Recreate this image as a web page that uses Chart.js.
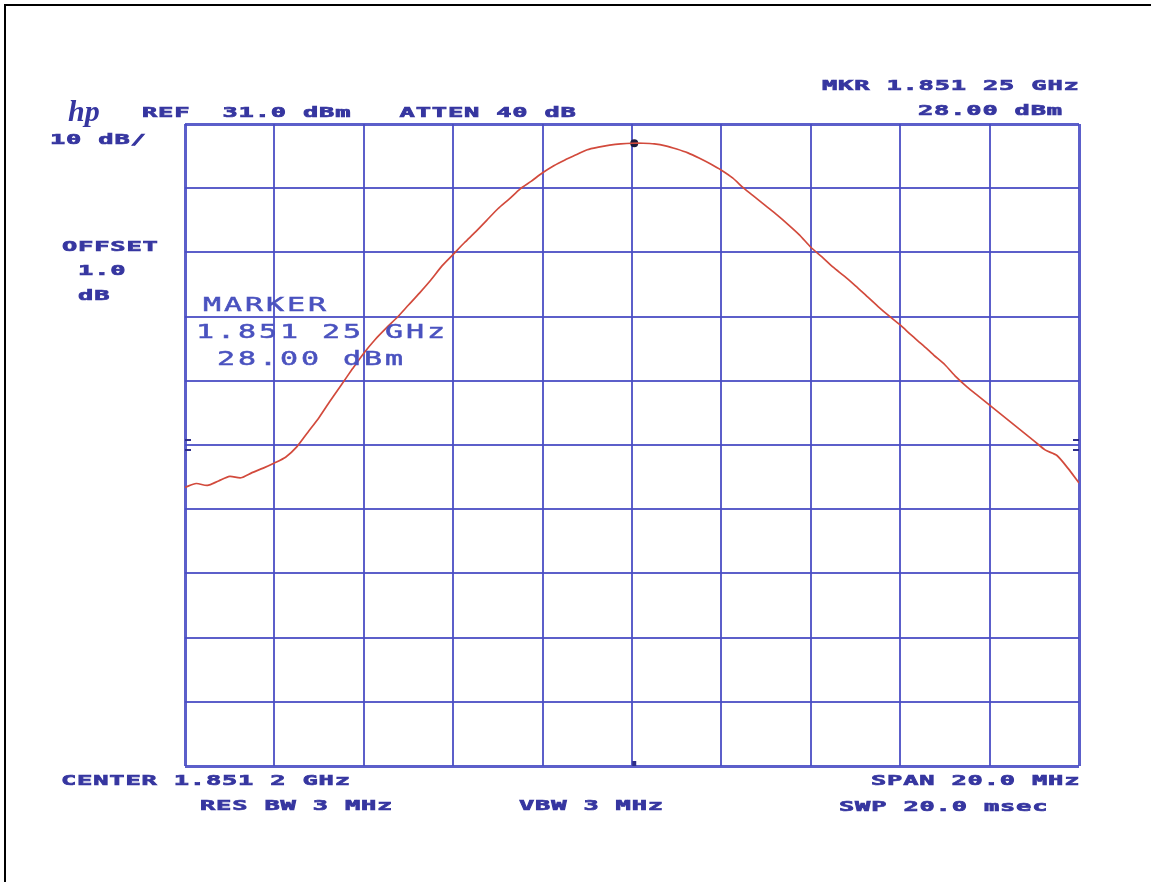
<!DOCTYPE html>
<html>
<head>
<meta charset="utf-8">
<script src="https://cdn.jsdelivr.net/npm/chart.js@4"></script>
<style>
  html, body { margin: 0; padding: 0; background: #fff; }
  #wrap { width: 1151px; height: 882px; }
</style>
</head>
<body>
<div id="wrap"><canvas id="chart" width="1151" height="882"></canvas></div>
<script>
// analyzer settings
const centerMHz = 1851.2;
const spanMHz = 20;
const refLevel = 31.0;
const dbPerDiv = 10;
const divisions = 10;

// swept trace, dBm, one reading every 0.25 MHz from the start of the sweep
const traceDbm = [
  -25.6, -25.0, -25.3, -24.6, -23.9, -24.1, -23.3, -22.6, -21.8, -20.9,
  -19.3, -17.0, -14.7, -12.1, -9.6, -7.1, -4.7, -2.6, -0.8, 0.9,
  2.8, 4.7, 6.7, 8.9, 10.7, 12.5, 14.2, 16.0, 17.8, 19.3,
  20.9, 22.1, 23.4, 24.5, 25.4, 26.2, 27.0, 27.4, 27.7, 27.9,
  28.0, 28.0, 27.9, 27.6, 27.1, 26.5, 25.7, 24.8, 23.8, 22.6,
  21.0, 19.6, 18.2, 16.8, 15.3, 13.7, 11.8, 10.3, 8.7, 7.3,
  5.8, 4.2, 2.6, 1.1, -0.3, -1.9, -3.4, -5.0, -6.5, -8.4,
  -10.0, -11.4, -12.8, -14.2, -15.6, -17.0, -18.4, -19.8, -20.6, -22.6,
  -24.9
];

// marker readout
const markerMHz = 1851.25;
const markerDbm = 28.00;

// display line level (the little "=" marks on both edges)
const displayLineDbm = -19;

// annotation text: [text, x, y]
const headerLabels = [
  ['REF  31.0 dBm   ATTEN 40 dB', 142, 113],
  ['MKR 1.851 25 GHz', 822, 86],
  ['28.00 dBm', 918, 111],
  ['10 dB/', 50, 140],
  ['OFFSET', 62, 247],
  [' 1.0', 62, 271],
  [' dB', 62, 296]
];
const footerLabels = [
  ['CENTER 1.851 2 GHz', 61, 781],
  ['RES BW 3 MHz', 200, 806],
  ['VBW 3 MHz', 519, 806],
  ['SPAN 20.0 MHz', 871, 781],
  ['SWP 20.0 msec', 839, 807]
];
const markerLabels = [
  ['MARKER', 203, 306],
  ['1.851 25 GHz', 196, 333],
  [' 28.00 dBm', 196, 360]
];

const INK = '#3636a0';
const GRID = 'rgba(74, 78, 196, 0.9)';
const TRACE = '#d24a3c';

const startMHz = centerMHz - spanMHz / 2;
const stepMHz = spanMHz / (traceDbm.length - 1);
const tracePoints = traceDbm.map((y, i) => ({ x: startMHz + i * stepMHz, y: y }));

// plotter style lettering: wide, squat monospaced glyphs
function plotText(ctx, str, x, y, opts) {
  const o = Object.assign({ size: 14.5, pitch: 16.1, stretch: 1.75, weight: 'bold', color: INK, pen: 0.7 }, opts || {});
  ctx.save();
  ctx.fillStyle = o.color;
  ctx.strokeStyle = o.color;
  ctx.lineWidth = o.pen;
  ctx.font = o.weight + ' ' + o.size + 'px "DejaVu Sans Mono"';
  ctx.textBaseline = 'middle';
  ctx.textAlign = 'left';
  for (let i = 0; i < str.length; i++) {
    const ch = str[i];
    if (ch === ' ') continue;
    ctx.save();
    ctx.translate(x + i * o.pitch, y);
    ctx.scale(o.stretch, 1);
    ctx.fillText(ch, 0, 0);
    if (o.pen > 0) ctx.strokeText(ch, 0, 0);
    ctx.restore();
  }
  ctx.restore();
}

const plotterDecor = {
  id: 'plotterDecor',
  afterDraw(chart) {
    const ctx = chart.ctx;
    const xs = chart.scales.x;
    const ys = chart.scales.y;
    const area = chart.chartArea;

    // sheet edge
    ctx.save();
    ctx.fillStyle = '#000';
    ctx.fillRect(4, 4, 1147, 2);
    ctx.fillRect(4, 4, 2, 878);
    ctx.restore();

    // hp logo
    ctx.save();
    ctx.fillStyle = INK;
    ctx.font = 'italic bold 30px "Liberation Serif"';
    ctx.textBaseline = 'alphabetic';
    ctx.fillText('hp', 68, 121);
    ctx.restore();

    headerLabels.concat(footerLabels).forEach(l => plotText(ctx, l[0], l[1], l[2]));
    markerLabels.forEach(l => plotText(ctx, l[0], l[1], l[2], {
      size: 20, pitch: 21, stretch: 1.5, weight: 'normal', color: '#4a52bf', pen: 0.5
    }));

    // display line marks on left and right edges
    const yLine = ys.getPixelForValue(displayLineDbm);
    ctx.save();
    ctx.strokeStyle = '#2e2e8a';
    ctx.lineWidth = 2;
    ctx.beginPath();
    [-5, 5].forEach(d => {
      ctx.moveTo(area.left, yLine + d); ctx.lineTo(area.left + 6, yLine + d);
      ctx.moveTo(area.right - 6, yLine + d); ctx.lineTo(area.right, yLine + d);
    });
    ctx.stroke();

    // marker position tick on the bottom edge
    const xm = xs.getPixelForValue(markerMHz);
    ctx.fillStyle = '#2e2e8a';
    ctx.fillRect(xm - 2, area.bottom - 5, 4, 5);
    ctx.restore();
  }
};

const ctx = document.getElementById('chart').getContext('2d');
new Chart(ctx, {
  type: 'line',
  data: {
    datasets: [
      {
        label: 'trace',
        data: tracePoints,
        borderColor: TRACE,
        borderWidth: 1.7,
        pointRadius: 0,
        tension: 0.25,
        fill: false
      },
      {
        label: 'marker',
        data: [{ x: markerMHz, y: markerDbm }],
        showLine: false,
        pointRadius: 4,
        pointBackgroundColor: '#1c1c3c',
        pointBorderWidth: 0
      }
    ]
  },
  options: {
    responsive: false,
    animation: false,
    devicePixelRatio: 1,
    layout: { padding: { left: 185, top: 124, right: 72, bottom: 116 } },
    plugins: {
      legend: { display: false },
      tooltip: { enabled: false }
    },
    scales: {
      x: {
        type: 'linear',
        min: startMHz,
        max: startMHz + spanMHz,
        ticks: { display: false, stepSize: spanMHz / divisions },
        grid: {
          color: GRID,
          lineWidth: c => (c.index === 0 || c.index === divisions) ? 3 : 2,
          drawTicks: false
        },
        border: { display: false }
      },
      y: {
        type: 'linear',
        min: refLevel - dbPerDiv * divisions,
        max: refLevel,
        ticks: { display: false, stepSize: dbPerDiv },
        grid: {
          color: GRID,
          lineWidth: c => (c.index === 0 || c.index === divisions) ? 3 : 2,
          drawTicks: false
        },
        border: { display: false }
      }
    }
  },
  plugins: [plotterDecor]
});
</script>
</body>
</html>
